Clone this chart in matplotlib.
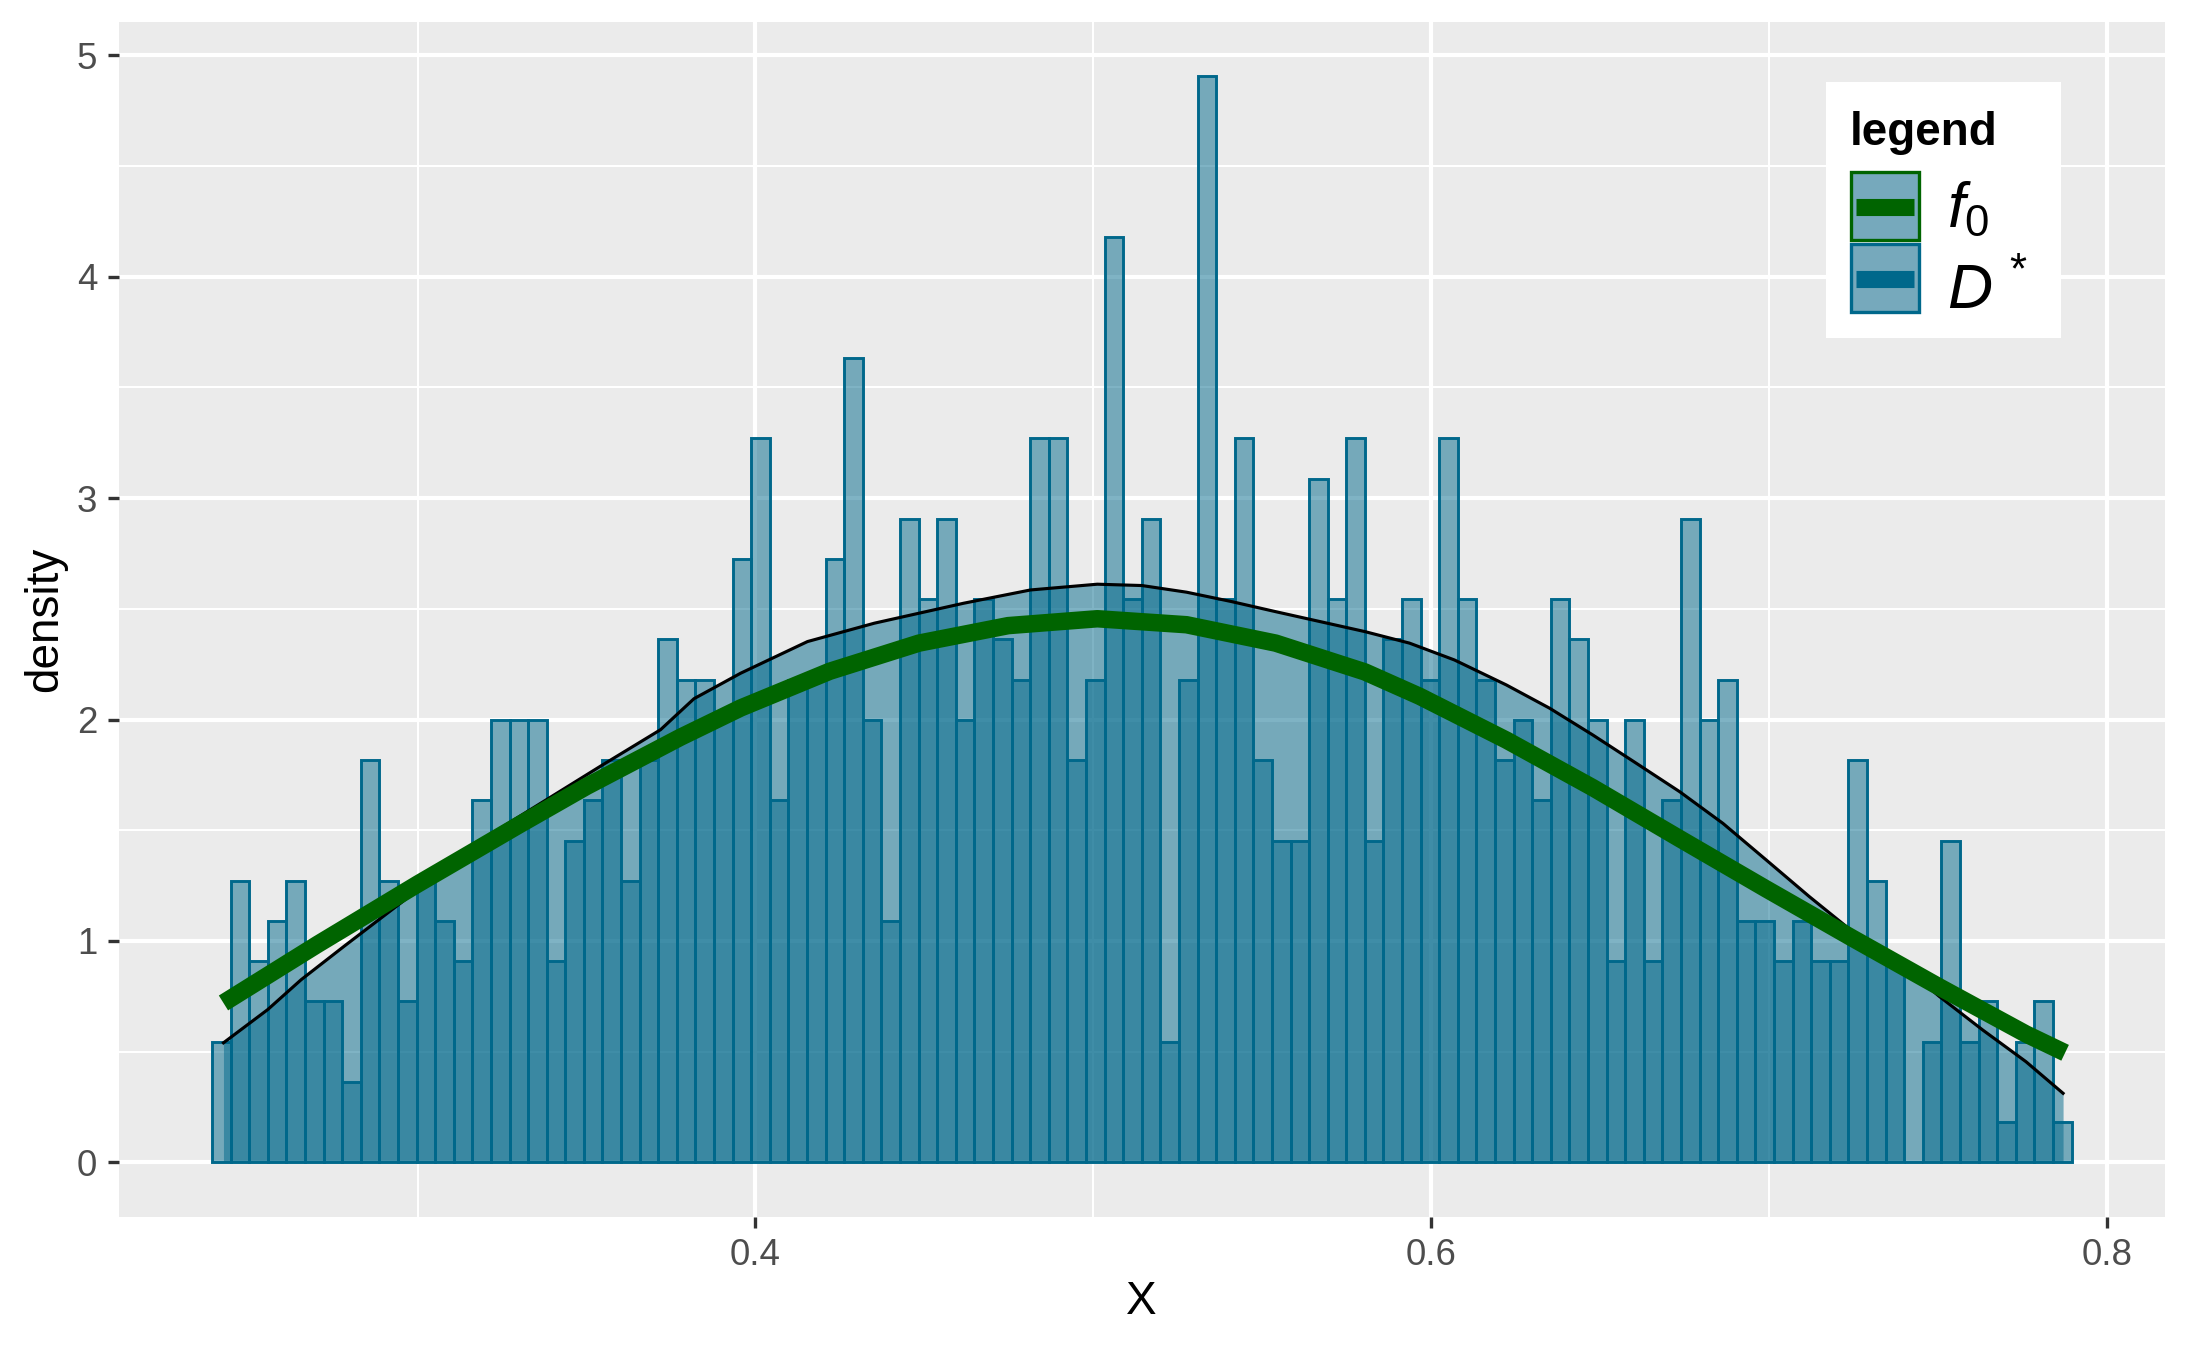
import numpy as np
import matplotlib
matplotlib.use("Agg")
import matplotlib.pyplot as plt
from matplotlib.patches import Rectangle
from matplotlib.ticker import FixedLocator

plt.rcParams['font.family'] = ['Liberation Sans', 'DejaVu Sans']
plt.rcParams['mathtext.fontset'] = 'custom'
plt.rcParams['mathtext.it'] = 'Liberation Sans:italic'
plt.rcParams['mathtext.rm'] = 'Liberation Sans'
plt.rcParams['mathtext.bf'] = 'Liberation Sans:bold'

# ---------------- data ----------------
bin_start = 0.2391
bin_end = 0.7896
n_obs = 1000
counts = [3, 7, 5, 6, 7, 4, 4, 2, 10, 7,
          4, 7, 6, 5, 9, 11, 11, 11, 5, 8,
          9, 10, 7, 10, 13, 12, 12, 11, 15, 18,
          9, 12, 12, 15, 20, 11, 6, 16, 14, 16,
          11, 14, 13, 12, 18, 18, 10, 12, 23, 14,
          16, 3, 12, 27, 14, 18, 10, 8, 8, 17,
          14, 18, 8, 13, 14, 12, 18, 14, 12, 10,
          11, 9, 14, 13, 11, 5, 11, 5, 9, 16,
          11, 12, 6, 6, 5, 6, 5, 5, 10, 7,
          5, 0, 3, 8, 3, 4, 1, 3, 4, 1]

f0_x = [0.2425, 0.2704, 0.3000, 0.3299, 0.3500, 0.3778, 0.3956, 0.4220,
        0.4484, 0.4748, 0.5012, 0.5276, 0.5540, 0.5804, 0.5966, 0.6223,
        0.6479, 0.6736, 0.6992, 0.7248, 0.7505, 0.7761, 0.7877]
f0_y = [0.720, 0.985, 1.257, 1.523, 1.698, 1.920, 2.052, 2.218,
        2.345, 2.424, 2.455, 2.428, 2.345, 2.215, 2.105, 1.907,
        1.692, 1.462, 1.235, 1.012, 0.792, 0.580, 0.495]

dens_x = [0.2425, 0.2556, 0.2655, 0.2783, 0.3000, 0.3246, 0.3542, 0.3719,
          0.3818, 0.3956, 0.4154, 0.4352, 0.4616, 0.4814, 0.5012, 0.5144,
          0.5276, 0.5408, 0.5540, 0.5672, 0.5804, 0.5936, 0.6069, 0.6223,
          0.6351, 0.6479, 0.6607, 0.6736, 0.6864, 0.6992, 0.7120, 0.7248,
          0.7377, 0.7505, 0.7633, 0.7761, 0.7871]
dens_y = [0.54, 0.69, 0.825, 0.977, 1.23, 1.51, 1.79, 1.954,
          2.094, 2.209, 2.352, 2.435, 2.525, 2.585, 2.611, 2.605,
          2.575, 2.533, 2.487, 2.442, 2.397, 2.345, 2.269, 2.156,
          2.051, 1.930, 1.803, 1.674, 1.531, 1.366, 1.200, 1.042,
          0.914, 0.749, 0.598, 0.455, 0.312]

x_ticks = [0.4, 0.6, 0.8]
x_tick_labels = ['0.4', '0.6', '0.8']
y_ticks = [0, 1, 2, 3, 4, 5]
y_tick_labels = ['0', '1', '2', '3', '4', '5']
x_title = 'X'
y_title = 'density'
legend_title = 'legend'
legend_labels = [r'$f_0$', r'$D^{\,*}$']

# ---------------- style ----------------
BLUE = '#00688B'
GREEN = '#006400'
LIGHT = '#76A9BC'
W, H, DPI = 2187, 1350, 300

fig = plt.figure(figsize=(W / DPI, H / DPI), dpi=DPI)
px_l, px_r, px_t, px_b = 119, 2164.5, 22, 1216.7
ax = fig.add_axes([px_l / W, 1 - px_b / H, (px_r - px_l) / W, (px_b - px_t) / H])
ax.set_facecolor('#EBEBEB')
for s in ax.spines.values():
    s.set_visible(False)

edges = np.linspace(bin_start, bin_end, len(counts) + 1)
bw = edges[1] - edges[0]
heights = np.asarray(counts, dtype=float) / (n_obs * bw)

ax.bar(edges[:-1], heights, width=bw, align='edge',
       color=(0, 104 / 255, 139 / 255, 0.5), edgecolor=BLUE,
       linewidth=0.7, zorder=2)
ax.fill_between(dens_x, dens_y, 0, color=BLUE, alpha=0.5, linewidth=0, zorder=3)
ax.plot(dens_x, dens_y, color='black', linewidth=0.75, zorder=4,
        solid_joinstyle='round')
ax.plot(f0_x, f0_y, color=GREEN, linewidth=4.2, solid_capstyle='butt',
        solid_joinstyle='round', zorder=5)

xr = bin_end - bin_start
ax.set_xlim(bin_start - 0.05 * xr, bin_end + 0.05 * xr)
ymax = heights.max()
ax.set_ylim(-0.05 * ymax, ymax * 1.05)

ax.xaxis.set_major_locator(FixedLocator(x_ticks))
ax.set_xticklabels(x_tick_labels)
ax.xaxis.set_minor_locator(FixedLocator([0.3, 0.5, 0.7]))
ax.yaxis.set_major_locator(FixedLocator(y_ticks))
ax.set_yticklabels(y_tick_labels)
ax.yaxis.set_minor_locator(FixedLocator([0.5, 1.5, 2.5, 3.5, 4.5]))

ax.set_axisbelow(True)
ax.grid(which='major', color='white', linewidth=1.0)
ax.grid(which='minor', color='white', linewidth=0.5)
ax.tick_params(which='major', length=2.7, width=0.8, color='#333333',
               labelsize=8.8, labelcolor='#4D4D4D', pad=2.5)
ax.tick_params(which='minor', length=0)

fig.text(1141.7 / W, 1 - 1301.7 / H, x_title, ha='center', va='center', fontsize=11)
fig.text(45 / W, 1 - 619 / H, y_title, ha='center', va='center', fontsize=11,
         rotation=90)

# ---------------- legend ----------------
lx0, lx1, ly0, ly1 = 1826, 2061, 82, 337.7
lax = fig.add_axes([lx0 / W, 1 - ly1 / H, (lx1 - lx0) / W, (ly1 - ly0) / H])
lax.set_xlim(lx0, lx1)
lax.set_ylim(ly1, ly0)
lax.set_facecolor('white')
lax.set_xticks([])
lax.set_yticks([])
for s in lax.spines.values():
    s.set_visible(False)
lax.text(1850, 145, legend_title, fontsize=11, fontweight='bold',
         ha='left', va='baseline')
key_tops = [171.7, 244.0]
key_colors = [GREEN, BLUE]
text_base = [226.7, 308.3]
for top, col, lab, tb in zip(key_tops, key_colors, legend_labels, text_base):
    lax.add_patch(Rectangle((1851, top), 68, 68, facecolor=LIGHT,
                            edgecolor=col, linewidth=0.8))
    lax.plot([1856, 1914], [top + 35, top + 35], color=col, linewidth=4.1,
             solid_capstyle='butt')
    lax.text(1946.7, tb, lab, fontsize=15, ha='left', va='baseline')

fig.savefig('out.png', dpi=DPI)
